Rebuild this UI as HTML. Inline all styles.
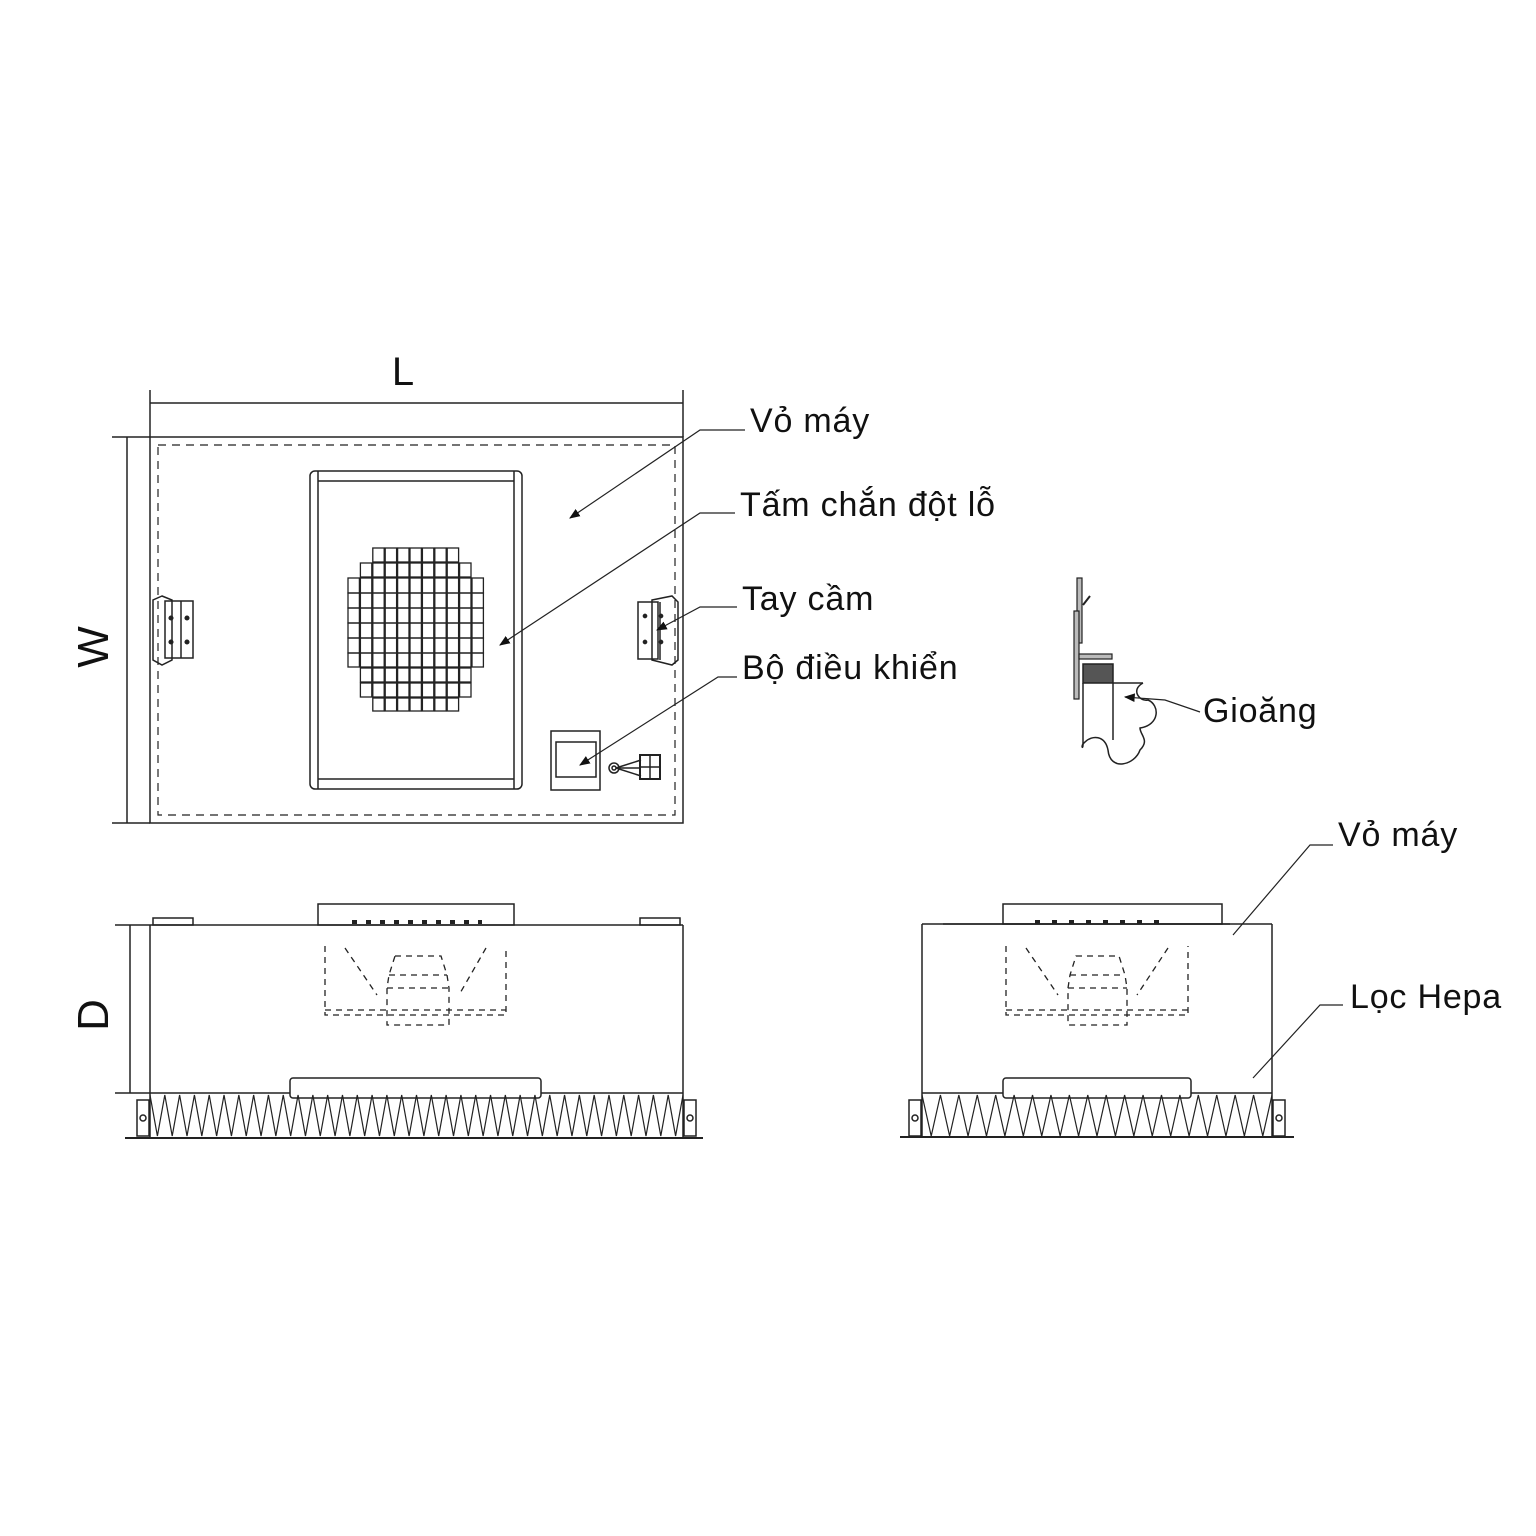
<!DOCTYPE html>
<html><head><meta charset="utf-8"><style>
html,body{margin:0;padding:0;background:#fff;}
svg{display:block}
text{font-family:"Liberation Sans","DejaVu Sans",sans-serif;fill:#111;}
.lb{letter-spacing:0.8px}
</style></head><body>
<svg id="s" width="1536" height="1536" viewBox="0 0 1536 1536" xmlns="http://www.w3.org/2000/svg">
<defs>
<marker id="ar" viewBox="0 0 10 10" refX="9" refY="5" markerWidth="9" markerHeight="9" orient="auto"><path d="M0,1 L10,5 L0,9 z" fill="#111"/></marker>
</defs>
<g fill="none" stroke="#222" stroke-width="1.5">
<!-- TOP VIEW -->
<line x1="150" y1="390" x2="150" y2="437"/><line x1="683" y1="390" x2="683" y2="437"/>
<line x1="150" y1="403" x2="683" y2="403"/>
<line x1="112" y1="437" x2="150" y2="437"/><line x1="112" y1="823" x2="150" y2="823"/>
<line x1="127" y1="437" x2="127" y2="823"/>
<rect x="150" y="437" width="533" height="386"/>
<rect x="158" y="445" width="517" height="370" stroke-dasharray="8,6" stroke-width="1.2"/>
<rect x="310" y="471" width="212" height="318" rx="5"/>
<line x1="318" y1="471" x2="318" y2="789"/><line x1="514" y1="471" x2="514" y2="789"/>
<line x1="318" y1="481" x2="514" y2="481"/><line x1="318" y1="779" x2="514" y2="779"/>
<g id="grid" stroke-width="1.3"></g>
<!-- left handle -->
<path d="M162,596 L153,600 L153,660 L162,665 L172,660 L172,600 Z"/>
<rect x="165" y="601" width="28" height="57"/><line x1="181" y1="601" x2="181" y2="658"/>
<circle cx="171" cy="618" r="1.8" fill="#222"/><circle cx="171" cy="642" r="1.8" fill="#222"/>
<circle cx="187" cy="618" r="1.8" fill="#222"/><circle cx="187" cy="642" r="1.8" fill="#222"/>
<!-- right handle -->
<rect x="638" y="602" width="20" height="57"/>
<path d="M652,600 L672,596 L678,602 L678,660 L672,665 L652,660 Z"/>
<line x1="660" y1="602" x2="660" y2="660"/>
<circle cx="645" cy="616" r="1.6" fill="#222"/><circle cx="645" cy="642" r="1.6" fill="#222"/>
<circle cx="661" cy="616" r="1.6" fill="#222"/><circle cx="661" cy="642" r="1.6" fill="#222"/>
<!-- controller -->
<rect x="551" y="731" width="49" height="59"/><rect x="556" y="742" width="40" height="35"/>
<circle cx="614" cy="768" r="5"/><circle cx="614" cy="768" r="2"/>
<line x1="616" y1="768" x2="641" y2="760"/><line x1="616" y1="768" x2="641" y2="768"/><line x1="616" y1="768" x2="641" y2="776"/>
<rect x="640" y="755" width="20" height="24" stroke-width="2"/><line x1="650" y1="755" x2="650" y2="779"/><line x1="640" y1="767" x2="660" y2="767"/>
<!-- leaders top -->
<polyline points="745,430 700,430 570,518" marker-end="url(#ar)" stroke-width="1.2"/>
<polyline points="735,513 700,513 500,645" marker-end="url(#ar)" stroke-width="1.2"/>
<polyline points="737,607 700,607 657,630" marker-end="url(#ar)" stroke-width="1.2"/>
<polyline points="737,677 718,677 580,765" marker-end="url(#ar)" stroke-width="1.2"/>

<!-- LEFT SIDE VIEW -->
<line x1="115" y1="925" x2="150" y2="925"/><line x1="115" y1="1093" x2="150" y2="1093"/>
<line x1="130" y1="925" x2="130" y2="1093"/>
<line x1="150" y1="925" x2="683" y2="925"/>
<line x1="150" y1="925" x2="150" y2="1138"/><line x1="683" y1="925" x2="683" y2="1138"/>
<line x1="150" y1="1093" x2="683" y2="1093"/>
<line x1="125" y1="1138" x2="703" y2="1138" stroke-width="2"/>
<rect x="153" y="918" width="40" height="7"/><rect x="640" y="918" width="40" height="7"/>
<rect x="318" y="904" width="196" height="21"/>
<line x1="352" y1="922" x2="482" y2="922" stroke-width="4" stroke-dasharray="5,9"/>
<rect x="290" y="1078" width="251" height="20" rx="3" fill="#fff"/>
<g id="zzL"></g>
<g id="fanL" stroke-dasharray="6,5" stroke-width="1.3"></g>
<rect x="137" y="1100" width="12" height="36"/><circle cx="143" cy="1118" r="3"/>
<rect x="684" y="1100" width="12" height="36"/><circle cx="690" cy="1118" r="3"/>

<!-- RIGHT SIDE VIEW -->
<line x1="943" y1="924" x2="1230" y2="924"/>
<line x1="922" y1="924" x2="1272" y2="924"/>
<line x1="922" y1="924" x2="922" y2="1138"/><line x1="1272" y1="924" x2="1272" y2="1138"/>
<line x1="922" y1="1093" x2="1272" y2="1093"/>
<line x1="900" y1="1137" x2="1294" y2="1137" stroke-width="2"/>
<rect x="1003" y="904" width="219" height="20"/>
<line x1="1035" y1="922" x2="1160" y2="922" stroke-width="4" stroke-dasharray="5,12"/>
<rect x="1003" y="1078" width="188" height="20" rx="3" fill="#fff"/>
<g id="zzR"></g>
<g id="fanR" stroke-dasharray="6,5" stroke-width="1.3"></g>
<rect x="909" y="1100" width="12" height="36"/><circle cx="915" cy="1118" r="3"/>
<rect x="1273" y="1100" width="12" height="36"/><circle cx="1279" cy="1118" r="3"/>
<polyline points="1333,845 1310,845 1233,935" stroke-width="1.2"/>
<polyline points="1343,1005 1320,1005 1253,1078" stroke-width="1.2"/>

<!-- GASKET DETAIL -->
<rect x="1077" y="578" width="5" height="65" stroke-width="1.2" fill="#bbb"/>
<rect x="1074" y="611" width="5" height="88" stroke-width="1.2" fill="#bbb"/>
<rect x="1079" y="654" width="33" height="5" stroke-width="1.2" fill="#bbb"/>
<rect x="1083" y="664" width="30" height="19" fill="#555"/>
<line x1="1083" y1="683" x2="1083" y2="745"/><line x1="1113" y1="683" x2="1113" y2="740"/>
<line x1="1113" y1="683" x2="1143" y2="683"/>
<path d="M1143,683 C1130,690 1140,702 1148,700 C1160,705 1160,725 1140,728 C1140,735 1150,740 1140,750 C1135,765 1110,772 1108,750 C1105,735 1092,735 1085,742 C1080,746 1083,750 1083,745"/>
<line x1="1083" y1="605" x2="1090" y2="596" stroke-width="2"/>
<polyline points="1200,712 1165,700 1125,697" marker-end="url(#ar)" stroke-width="1.2"/>
</g>
<text x="403" y="385" font-size="40" text-anchor="middle">L</text>
<text transform="translate(108,647) rotate(-90)" font-size="44" text-anchor="middle">W</text>
<text transform="translate(108,1015) rotate(-90)" font-size="44" text-anchor="middle">D</text>
<g class="lb">
<text x="750" y="432" font-size="34">Vỏ máy</text>
<text x="740" y="516" font-size="34">Tấm chắn đột lỗ</text>
<text x="742" y="610" font-size="34">Tay cầm</text>
<text x="742" y="679" font-size="34">Bộ điều khiển</text>
<text x="1203" y="722" font-size="34">Gioăng</text>
<text x="1338" y="846" font-size="34">Vỏ máy</text>
<text x="1350" y="1008" font-size="34">Lọc Hepa</text>
</g>
</svg>
<script>
var NS="http://www.w3.org/2000/svg";
function el(p,t,a){var e=document.createElementNS(NS,t);for(var k in a)e.setAttribute(k,a[k]);p.appendChild(e);return e;}
var g=document.getElementById("grid");
var rows=[[548,14,2,8],[563,14,1,9],[578,15,0,10],[593,15,0,10],[608,15,0,10],[623,15,0,10],[638,15,0,10],[653,14,0,10],[668,14,1,9],[683,14,1,9],[698,13,2,8]];
rows.forEach(function(r){for(var c=r[2];c<=r[3];c++){el(g,"rect",{x:348+c*12.4,y:r[0],width:11.4,height:r[1]});}});
function zz(id,x0,x1,n){var gg=document.getElementById(id);var w=(x1-x0)/n;var d="M"+x0+",1095";for(var i=0;i<n;i++){d+=" L"+(x0+w*(i+0.5))+",1136 L"+(x0+w*(i+1))+",1095";}el(gg,"path",{d:d,"stroke-width":1.2});}
zz("zzL",150,683,36);zz("zzR",922,1272,19);
function fan(id,x0,x1,mx0,mx1){var gg=document.getElementById(id);
el(gg,"path",{d:"M"+x0+",946 L"+x0+",1015 L"+x1+",1015 L"+x1+",946"});
el(gg,"line",{x1:x0,y1:1010,x2:x1,y2:1010});
el(gg,"path",{d:"M"+(x0+20)+",948 L"+(mx0-10)+",995 M"+(x1-20)+",948 L"+(mx1+10)+",995"});
el(gg,"path",{d:"M"+(mx0+8)+",956 L"+(mx1-8)+",956 L"+(mx1-2)+",975 L"+(mx1)+",988 L"+mx1+",1025 L"+mx0+",1025 L"+mx0+",988 L"+(mx0+2)+",975 Z"});
el(gg,"line",{x1:mx0+2,y1:975,x2:mx1-2,y2:975});el(gg,"line",{x1:mx0,y1:988,x2:mx1,y2:988});
}
fan("fanL",325,506,387,449);fan("fanR",1006,1188,1068,1127);
</script>
</body></html>
